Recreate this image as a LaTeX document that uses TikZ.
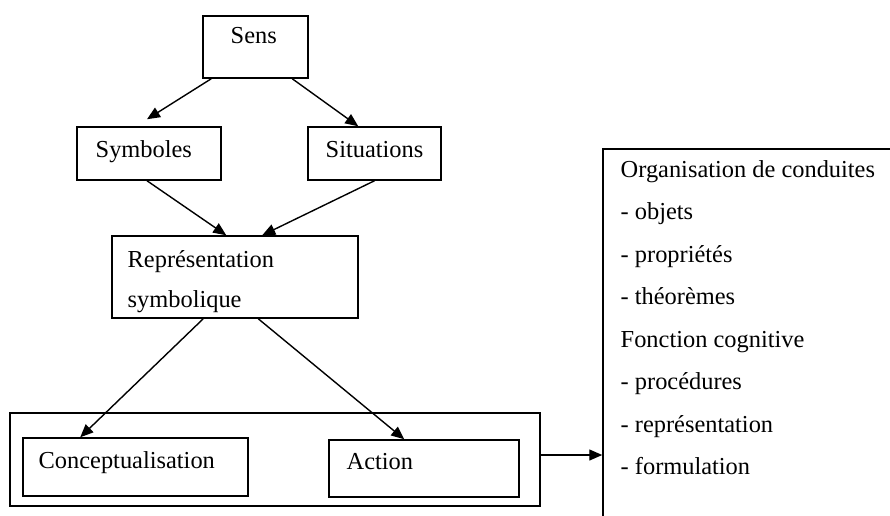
\documentclass[tikz,border=0pt]{standalone}
\usepackage{fontspec}
\setmainfont{Liberation Serif}
\usetikzlibrary{arrows.meta,calc}
\tikzset{
  box/.style={draw,line width=0.75pt,inner sep=0pt},
  txt/.style={anchor=base west,inner sep=0pt,font=\fontsize{12.2}{15}\selectfont},
}
\begin{document}
\begin{tikzpicture}[x=0.5pt,y=-0.5pt,line width=0.7pt]
      \clip (0,0) rectangle (890,515);
      % boxes
      \node[box,minimum width=52.5pt,minimum height=31pt] (sens) at (255.5,47) {};
      \node[box,minimum width=72pt,minimum height=26.5pt] (sym) at (149,153.5) {};
      \node[box,minimum width=66.5pt,minimum height=26.5pt] (sit) at (374.5,153.5) {};
      \node[box,minimum width=123pt,minimum height=41pt] (rep) at (235,277) {};
      \node[box,minimum width=265pt,minimum height=46.5pt] (outer) at (275,459.5) {};
      \node[box,minimum width=112.5pt,minimum height=29pt] (con) at (135.5,467) {};
      \node[box,minimum width=95pt,minimum height=28.5pt] (act) at (424,468.5) {};
      \node[box,minimum width=148.5pt,minimum height=188pt] (org) at (751.5,337) {};
      % texts
      \node[txt] (t-sens) at (230,43) {Sens};
      \node[txt] (t-sym) at (95,157) {Symboles};
      \node[txt] (t-sit) at (325,157) {Situations};
      \node[txt] (t-rep1) at (127,267) {Représentation};
      \node[txt] (t-rep2) at (127,307) {symbolique};
      \node[txt] (t-con) at (38,468) {Conceptualisation};
      \node[txt] (t-act) at (346,469) {Action};
      \node[txt] (t-org1) at (620,177) {Organisation de conduites};
      \node[txt] (t-org2) at (620,219.5) {- objets};
      \node[txt] (t-org3) at (620,262) {- propriétés};
      \node[txt] (t-org4) at (620,304.5) {- théorèmes};
      \node[txt] (t-org5) at (620,347) {Fonction cognitive};
      \node[txt] (t-org6) at (620,389.5) {- procédures};
      \node[txt] (t-org7) at (620,432) {- représentation};
      \node[txt] (t-org8) at (620,474.5) {- formulation};
      \coordinate (out) at ($(outer.east)+(0,-4.5)$);
      \begin{scope}[-{Triangle[length=6.5pt,width=5.5pt]}]
        \draw ($(sens.south west)+(9,0)$) to ($(sym.north)+(-2,-7)$);
        \draw ($(sens.south west)+(90,0)$) to ($(sit.north west)+(51,0)$);
        \draw ($(sym.south)+(-2,0)$) to ($(rep.north west)+(115,0)$);
        \draw (sit.south) to ($(rep.north west)+(151,0)$);
        \draw ($(rep.south west)+(92,0)$) to ($(con.north west)+(58,0)$);
        \draw ($(rep.south west)+(147,0)$) to ($(act.north west)+(76,0)$);
        \draw (out) to (out -| org.west);
      \end{scope}
    \end{tikzpicture}
\end{document}
